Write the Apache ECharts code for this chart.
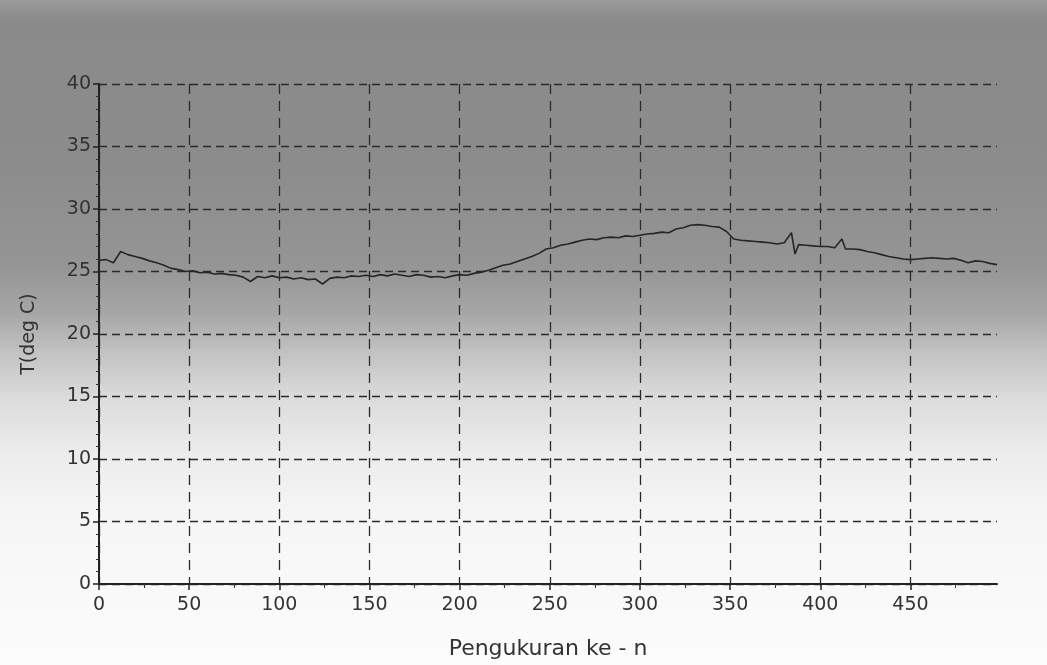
<!DOCTYPE html>
<html>
<head>
<meta charset="utf-8">
<script src="https://cdn.jsdelivr.net/npm/echarts@6/dist/echarts.min.js"></script>
<style>
html,body{margin:0;padding:0;background:#fff;}
#chart{width:1047px;height:665px;}
</style>
</head>
<body>
<div id="chart"></div>
<script>
// Measurement index (x) and temperature (deg C)
var measurementIndex = [0,4,8,12,16,20,24,28,32,36,40,44,48,52,56,60,64,68,72,76,80,84,88,92,96,100,104,108,112,116,120,124,128,132,136,140,144,148,152,156,160,164,168,172,176,180,184,188,192,196,200,204,208,212,216,220,224,228,232,236,240,244,248,252,256,260,264,268,272,276,280,284,288,292,296,300,304,308,312,316,320,324,328,332,336,340,344,348,352,356,360,364,368,372,376,380,384,386,388,392,396,400,404,408,412,414,418,422,426,430,434,438,442,446,450,454,458,462,466,470,474,478,482,486,490,494,498];
var temperature = [25.9,25.95,25.7,26.6,26.35,26.2,26.05,25.85,25.7,25.5,25.25,25.15,25.0,25.05,24.9,24.95,24.8,24.85,24.75,24.7,24.55,24.2,24.6,24.5,24.65,24.5,24.55,24.4,24.5,24.35,24.4,24.0,24.45,24.55,24.5,24.65,24.6,24.7,24.6,24.75,24.65,24.8,24.7,24.6,24.75,24.7,24.55,24.6,24.5,24.65,24.75,24.7,24.85,24.95,25.1,25.3,25.5,25.6,25.8,26.0,26.2,26.45,26.8,26.9,27.1,27.2,27.35,27.5,27.6,27.55,27.7,27.75,27.7,27.85,27.8,27.9,28.0,28.05,28.15,28.1,28.4,28.5,28.7,28.75,28.7,28.6,28.55,28.2,27.6,27.5,27.45,27.4,27.35,27.3,27.2,27.3,28.1,26.4,27.15,27.1,27.05,27.0,27.0,26.9,27.6,26.8,26.8,26.75,26.6,26.5,26.35,26.2,26.1,26.0,25.95,26.0,26.05,26.1,26.05,26.0,26.05,25.9,25.7,25.85,25.8,25.65,25.55];
var xTicks = [0,50,100,150,200,250,300,350,400,450];
var yTicks = [0,5,10,15,20,25,30,35,40];

var seriesData = measurementIndex.map(function(n, i){ return [n, temperature[i]]; });

var chart = echarts.init(document.getElementById('chart'), null, {renderer:'canvas'});
var font = '"DejaVu Sans", sans-serif';
var txt = '#333333';
chart.setOption({
  animation:false,
  backgroundColor:{
    type:'linear', x:0, y:0, x2:0, y2:1,
    colorStops:[
      {offset:0, color:'#9a9a9a'},
      {offset:0.03, color:'#8a8a8a'},
      {offset:0.25, color:'#8c8c8c'},
      {offset:0.40, color:'#959595'},
      {offset:0.47, color:'#a6a6a6'},
      {offset:0.53, color:'#c2c2c2'},
      {offset:0.60, color:'#dcdcdc'},
      {offset:0.68, color:'#ececec'},
      {offset:0.78, color:'#f6f6f6'},
      {offset:1, color:'#fcfcfc'}
    ]
  },
  grid:{left:99, right:50, top:84, bottom:80, containLabel:false},
  xAxis:{
    type:'value', min:0, max:498, interval:50,
    name:'Pengukuran ke - n', nameLocation:'middle', nameGap:54,
    nameTextStyle:{fontFamily:font, fontSize:22, color:txt},
    axisLine:{show:true, lineStyle:{color:'#222', width:2}},
    axisTick:{show:true, length:6, lineStyle:{color:'#222', width:1.5},
      customValues: xTicks},
    minorTick:{show:true, splitNumber:2, length:4, lineStyle:{color:'#333', width:1}},
    axisLabel:{fontFamily:font, fontSize:19, color:txt, margin:12,
      customValues: xTicks},
    splitLine:{show:true, lineStyle:{color:'#2a2a2a', width:1.3, type:[10,7]}}
  },
  yAxis:{
    type:'value', min:0, max:40, interval:5,
    name:'T(deg C)', nameLocation:'middle', nameGap:60, nameRotate:90,
    nameTextStyle:{fontFamily:font, fontSize:19, color:txt},
    axisLine:{show:true, lineStyle:{color:'#222', width:2}},
    axisTick:{show:true, length:6, lineStyle:{color:'#222', width:1.5}},
    minorTick:{show:true, splitNumber:5, length:3, lineStyle:{color:'#333', width:1}},
    axisLabel:{fontFamily:font, fontSize:19, color:txt, margin:8,
      customValues: yTicks},
    splitLine:{show:true, lineStyle:{color:'#2a2a2a', width:1.3, type:[8,5]}}
  },
  series:[{
    type:'line', data:seriesData, showSymbol:false, symbol:'none',
    lineStyle:{color:'#262626', width:1.6}, z:5
  }]
});
</script>
</body>
</html>
